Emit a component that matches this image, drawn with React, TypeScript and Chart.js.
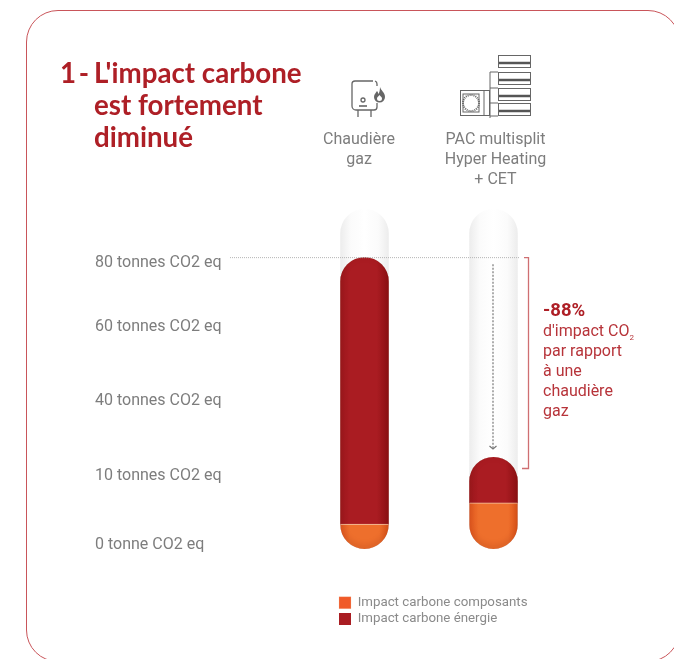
import React, { useEffect, useRef } from "react";
import { Chart, registerables } from "chart.js";

Chart.register(...registerables);

const categories = [["Chaudière", "gaz"], ["PAC multisplit", "Hyper Heating", "+ CET"]];
const composants = [6.8, 12.6];
const energie = [73.2, 12.6];
const capacity = [93.2, 93.2];
const tickValues = [1.1, 19.9, 40.55, 60.75, 78.3];
const tickLabels = ["0 tonne CO2 eq", "10 tonnes CO2 eq", "40 tonnes CO2 eq", "60 tonnes CO2 eq", "80 tonnes CO2 eq"];
const seriesNames = ["Impact carbone composants", "Impact carbone énergie"];
const legendColors = ["#f05a28", "#a91d22"];
const referenceValue = 80;

const RED = "#ae1f26";

function shade(flat: string, stops: [number, string][]) {
  return (c: any) => {
    if (c.dataIndex === undefined || !c.chart.scales.x) return flat;
    const x = c.chart.scales.x.getPixelForTick(c.dataIndex);
    const g = c.chart.ctx.createLinearGradient(x - 24.5, 0, x + 24.5, 0);
    stops.forEach(([o, col]) => g.addColorStop(o, col));
    return g;
  };
}

function capsule(chart: any, i: number, ds: number) {
  const el = chart.getDatasetMeta(ds).data[i];
  const scale = ds === 2 ? chart.scales.y2 : chart.scales.y;
  const bottom = scale.getPixelForValue(0);
  const w = el.width;
  return { x: el.x - w / 2, y: el.y, w, h: bottom - el.y };
}

const capsulePlugin = {
  id: "capsules",
  beforeLayout(chart: any) {
    const l = chart.legend;
    if (!l || l.__patched) return;
    const u = l.update;
    l.update = (w: number, h: number, m: any) => u.call(l, 230, h, m);
    l.__patched = true;
  },
  beforeDraw(chart: any) {
    // the reference's column captions are not exactly centred on their bars
    const items = chart.scales.x.getLabelItems();
    [-5.5, 2].forEach((dx, i) => {
      if (items[i] && !items[i].__moved) {
        items[i].options.translation[0] += dx;
        items[i].__moved = true;
      }
    });
  },
  beforeDatasetDraw(chart: any, args: any) {
    const ctx = chart.ctx;
    const top = args.index === 2 ? 2 : 1;
    ctx.save();
    ctx.beginPath();
    [0, 1].forEach((i) => {
      const r = capsule(chart, i, top);
      ctx.roundRect(r.x, r.y, r.w, r.h, r.w / 2);
    });
    ctx.clip();
  },
  afterDatasetDraw(chart: any) {
    chart.ctx.restore();
  },
  afterDatasetsDraw(chart: any) {
    const ctx = chart.ctx;
    // inner shading of the filled capsules
    [0, 1].forEach((i) => {
      const r = capsule(chart, i, 1);
      ctx.save();
      ctx.beginPath();
      ctx.roundRect(r.x, r.y, r.w, r.h, r.w / 2);
      ctx.clip();
      ctx.shadowColor = "rgba(110,20,0,0.8)";
      ctx.shadowBlur = 6;
      ctx.shadowOffsetY = -2;
      ctx.lineWidth = 2;
      ctx.strokeStyle = "rgba(120,25,0,0.5)";
      ctx.beginPath();
      ctx.roundRect(r.x - 1, r.y - 1, r.w + 2, r.h + 2, r.w / 2 + 1);
      ctx.stroke();
      ctx.restore();
    });
    // dotted reference line, arrow and bracket
    const yTop = chart.scales.y.getPixelForValue(referenceValue);
    const second = capsule(chart, 1, 1);
    const cx = second.x + second.w / 2;
    ctx.save();
    ctx.strokeStyle = "#b5b5b5";
    ctx.lineWidth = 1;
    ctx.setLineDash([1, 1]);
    ctx.beginPath();
    ctx.moveTo(230, yTop + 0.5);
    ctx.lineTo(519, yTop + 0.5);
    ctx.stroke();
    ctx.strokeStyle = "#777";
    ctx.lineWidth = 1.2;
    ctx.setLineDash([2, 1.5]);
    ctx.beginPath();
    ctx.moveTo(cx - 0.5, yTop + 7);
    ctx.lineTo(cx - 0.5, second.y - 8);
    ctx.stroke();
    ctx.setLineDash([]);
    ctx.beginPath();
    ctx.moveTo(cx - 4, second.y - 11);
    ctx.lineTo(cx - 0.5, second.y - 8);
    ctx.lineTo(cx + 3, second.y - 11);
    ctx.stroke();
    ctx.strokeStyle = "#cf6f72";
    ctx.lineWidth = 1.3;
    ctx.beginPath();
    ctx.moveTo(524, yTop + 0.5);
    ctx.lineTo(528.5, yTop + 0.5);
    ctx.lineTo(528.5, second.y + 11.5);
    ctx.lineTo(522, second.y + 11.5);
    ctx.stroke();
    ctx.restore();
  },
  afterLayout(chart: any) {
    const l = chart.legend;
    if (!l) return;
    const h = l.height;
    l.left = 336;
    l.right = 566;
    l.top = 593;
    l.bottom = 593 + h;
  },
};

function BoilerIcon() {
  return (
    <svg width="40" height="42" viewBox="0 0 40 42" style={{ position: "absolute", left: 349, top: 78 }} fill="none" stroke="#666" strokeWidth="1.3">
      <path d="M24 3H6a3 3 0 0 0-3 3v22a4 4 0 0 0 4 4h18a3 3 0 0 0 3-3v-4" />
      <path d="M26 3a3 3 0 0 1 2 3v2" />
      <path d="M9 32v7M22 32v7" />
      <circle cx="14" cy="22" r="2" />
      <path d="M10 28h8" strokeWidth="1.6" />
      <path d="M31 9c1 4 5 5 5 10a5.500 5.500 0 0 1-11 0c0-3 2-4 3-6 1 1 1 2 1.500 3 1-2 1.500-4 1.500-7z" fill="#666" stroke="none" />
      <path d="M30.500 17c1 1.500 2.500 2 2.500 3.500a2.500 2.500 0 0 1-5 0c0-1.500 1.500-2 2.500-3.500z" fill="#fff" stroke="none" />
    </svg>
  );
}

function PacIcon() {
  const units = [55, 72, 88, 103];
  return (
    <svg width="80" height="68" viewBox="458 52 76 66" style={{ position: "absolute", left: 458, top: 52, width: 76, height: 66 }} fill="none" stroke="#666" strokeWidth="1">
      <rect x="460.500" y="90.500" width="29" height="25" />
      <circle cx="471" cy="103" r="8" strokeWidth="2" strokeDasharray="1 1" />
      <rect x="463" y="94" width="16" height="18" />
      <path d="M490 72h8M490 72v46M490 88h8M490 103h8M490 116h8M484 90V116" />
      {units.map((y) => (
        <g key={y}>
          <rect x="498.500" y={y + 0.5} width="32" height="12" />
          <path d={`M499 ${y + 8}h31`} strokeWidth="2.500" stroke="#555" />
        </g>
      ))}
    </svg>
  );
}

export default function App() {
  const ref = useRef<HTMLCanvasElement>(null);
  useEffect(() => {
    document.body.style.margin = "0";
    const font = { family: "Roboto", size: 16 };
    const chart = new Chart(ref.current as HTMLCanvasElement, {
      type: "bar",
      data: {
        labels: categories as any,
        datasets: [
          {
            label: seriesNames[0],
            data: composants,
            backgroundColor: shade("#f05a28", [[0, "#e2581f"], [0.2, "#ee6f2c"], [0.8, "#ee6f2c"], [1, "#dd5418"]]) as any,
            borderColor: "#f4c7a8",
            borderWidth: { top: 1, left: 0, right: 0, bottom: 0 },
            borderSkipped: false,
            order: 1,
          },
          {
            label: seriesNames[1],
            data: energie,
            backgroundColor: shade("#a91d22", [[0, "#9c181d"], [0.2, "#aa1c22"], [0.75, "#aa1c22"], [1, "#8c1013"]]) as any,
            order: 2,
          },
          {
            label: "Capacité",
            data: capacity,
            yAxisID: "y2",
            backgroundColor: shade("#f2f2f2", [[0, "#ececec"], [0.22, "#fbfbfb"], [0.5, "#ffffff"], [0.78, "#fbfbfb"], [1, "#ececec"]]) as any,
            order: 3,
          },
        ],
      },
      options: {
        animation: false,
        responsive: false,
        layout: { padding: { left: 95, right: 116, top: 0, bottom: 67.5 } },
        datasets: { bar: { barThickness: 48.5 } },
        plugins: {
          tooltip: { enabled: false },
          legend: {
            position: "bottom",
            align: "start",
            labels: {
              boxWidth: 12,
              boxHeight: 12,
              padding: 3,
              color: "#8a8a8a",
              font: { family: "Roboto", size: 13.3 },
              filter: (item: any) => item.datasetIndex < 2,
              generateLabels: (c: any) =>
                (Chart.defaults.plugins.legend.labels as any).generateLabels(c).map((it: any) => ({
                  ...it,
                  fillStyle: legendColors[it.datasetIndex] || it.fillStyle,
                })),
            },
          },
        },
        scales: {
          x: {
            position: "top",
            stacked: true,
            grid: { display: false },
            border: { display: false },
            afterFit: (s: any) => { s.height = 209; },
            ticks: {
              color: "#7d7d7d",
              font: { ...font, lineHeight: 1.25 },
              padding: 11,
              maxRotation: 0,
              crossAlign: "far",
            },
          },
          y: {
            stacked: true,
            min: 0,
            max: capacity[0],
            grid: { display: false },
            border: { display: false },
            afterFit: (s: any) => { s.width = 205; },
            afterBuildTicks: (s: any) => { s.ticks = tickValues.map((value) => ({ value })); },
            ticks: {
              color: "#7d7d7d",
              font,
              crossAlign: "far",
              autoSkip: false,
              callback: (_v: any, i: number) => tickLabels[i],
            },
          },
          y2: { display: false, min: 0, max: capacity[0], stacked: false },
        },
      },
      plugins: [capsulePlugin],
    } as any);
    return () => chart.destroy();
  }, []);

  const text = { position: "absolute", whiteSpace: "nowrap" } as const;
  const title = { ...text, font: "700 27.700px/32px Lato", color: RED } as const;
  const note = { ...text, left: 543, font: "400 16px/20px Roboto", color: "#b7343a" } as const;
  return (
    <div style={{ position: "relative", width: 674, height: 659, overflow: "hidden", background: "#fff" }}>
      <canvas ref={ref} width={674} height={659} style={{ position: "absolute", left: 0, top: 0 }} />
      <div style={{ position: "absolute", left: 26, top: 10, width: 654, height: 652, boxSizing: "border-box", border: "1.500px solid #c9555a", borderRadius: 32 }} />
      <div style={{ ...title, left: 60, top: 57, wordSpacing: -4 }}>1 -</div>
      <div style={{ ...title, left: 94, top: 57 }}>L'impact carbone<br />est fortement<br />diminué</div>
      <BoilerIcon />
      <PacIcon />
      <div style={{ ...note, top: 300, font: "700 18.500px/20px Roboto", color: RED }}>-88%</div>
      <div style={{ ...note, top: 321 }}>d'impact CO<sub style={{ fontSize: 8, lineHeight: 0 }}>2</sub></div>
      <div style={{ ...note, top: 341 }}>par rapport</div>
      <div style={{ ...note, top: 361 }}>à une</div>
      <div style={{ ...note, top: 381 }}>chaudière</div>
      <div style={{ ...note, top: 401 }}>gaz</div>
    </div>
  );
}
